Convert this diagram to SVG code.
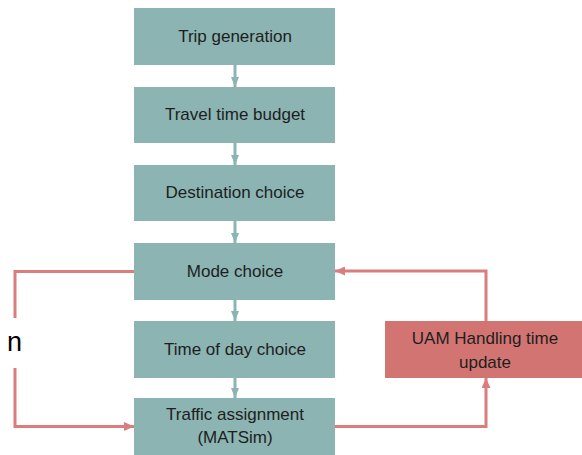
<svg xmlns="http://www.w3.org/2000/svg" width="582" height="455" viewBox="0 0 582 455">
<defs>
<style>
.box{fill:#8BB4B2;}
.red{fill:#D27572;}
.t{font-family:"Liberation Sans",Arial,sans-serif;font-size:17px;fill:#1e1e1e;text-anchor:middle;}
.tc{fill:none;stroke:#8BB4B2;stroke-width:3;}
.rc{fill:none;stroke:#D97D7D;stroke-width:3;}
</style>
<marker id="ta" viewBox="0 0 10 8" refX="10" refY="4" markerWidth="10" markerHeight="8" markerUnits="userSpaceOnUse" orient="auto">
<path d="M0,0 L10,4 L0,8 Z" fill="#8BB4B2"/>
</marker>
<marker id="ra" viewBox="0 0 10 9" refX="10" refY="4.5" markerWidth="10" markerHeight="9" markerUnits="userSpaceOnUse" orient="auto">
<path d="M0,0 L10,4.5 L0,9 Z" fill="#D97D7D"/>
</marker>
</defs>
<rect width="582" height="455" fill="#ffffff"/>
<g id="connectors">
<path class="tc" d="M235,65 V87" marker-end="url(#ta)"/>
<path class="tc" d="M235,143 V165" marker-end="url(#ta)"/>
<path class="tc" d="M235,221 V243" marker-end="url(#ta)"/>
<path class="tc" d="M235,300 V321" marker-end="url(#ta)"/>
<path class="tc" d="M235,378 V398" marker-end="url(#ta)"/>
<path class="rc" d="M134,271.5 H15 V426.5 H134" marker-end="url(#ra)"/>
<rect x="4" y="318" width="24" height="50" fill="#ffffff"/>
<text x="14.5" y="351" font-family="Liberation Sans,Arial,sans-serif" font-size="27" fill="#000000" text-anchor="middle">n</text>
<path class="rc" d="M335,426.5 H486 V378" marker-end="url(#ra)"/>
<path class="rc" d="M486,321 V271 H335" marker-end="url(#ra)"/>
</g>
<g id="trip-generation">
<rect class="box" x="134" y="8" width="201" height="57"/>
<text class="t" x="235" y="41.5">Trip generation</text>
</g>
<g id="travel-time-budget">
<rect class="box" x="134" y="87" width="201" height="56"/>
<text class="t" x="235" y="120">Travel time budget</text>
</g>
<g id="destination-choice">
<rect class="box" x="134" y="165" width="201" height="56"/>
<text class="t" x="235" y="198">Destination choice</text>
</g>
<g id="mode-choice">
<rect class="box" x="134" y="243" width="201" height="57"/>
<text class="t" x="235" y="276.5">Mode choice</text>
</g>
<g id="time-of-day-choice">
<rect class="box" x="134" y="321" width="201" height="57"/>
<text class="t" x="235" y="354.5">Time of day choice</text>
</g>
<g id="traffic-assignment">
<rect class="box" x="134" y="398" width="201" height="57"/>
<text class="t" x="235" y="419.5">Traffic assignment</text>
<text class="t" x="235" y="443">(MATSim)</text>
</g>
<g id="uam-handling-time-update">
<rect class="red" x="385" y="321" width="197" height="57"/>
<text class="t" x="485" y="343.5">UAM Handling time</text>
<text class="t" x="485" y="367.5">update</text>
</g>
</svg>
